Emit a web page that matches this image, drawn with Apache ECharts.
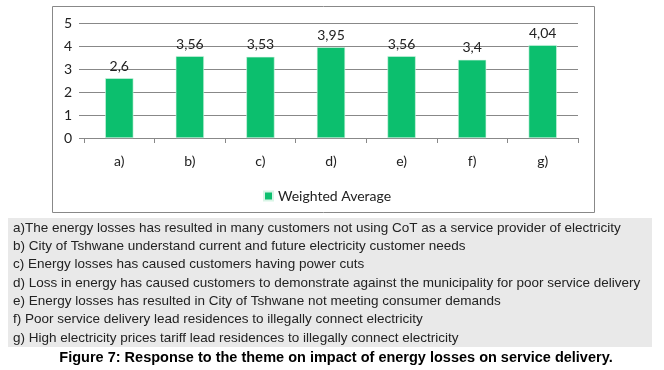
<!DOCTYPE html>
<html><head><meta charset="utf-8">
<script src="https://cdn.jsdelivr.net/npm/echarts@6/dist/echarts.min.js"></script>
<style>html,body{margin:0;padding:0;background:#fff}#c{width:664px;height:370px}</style>
</head><body><div id="c"></div>
<script>
const categories = ['a)', 'b)', 'c)', 'd)', 'e)', 'f)', 'g)'];
const weightedAverage = [2.6, 3.56, 3.53, 3.95, 3.56, 3.4, 4.04];
const seriesName = 'Weighted Average';
const yTicks = [0, 1, 2, 3, 4, 5];
const descriptions = [
  'a)The energy losses has resulted in many customers not using CoT as a service provider of electricity',
  'b) City of Tshwane understand current and future electricity customer needs',
  'c) Energy losses has caused customers having power cuts',
  'd) Loss in energy has caused customers to demonstrate against the municipality for poor service delivery',
  'e) Energy losses has resulted in City of Tshwane not meeting consumer demands',
  'f) Poor service delivery lead residences to illegally connect electricity',
  'g) High electricity prices tariff lead residences to illegally connect electricity'
];
const caption = 'Figure 7: Response to the theme on impact of energy losses on service delivery.';

const chart = echarts.init(document.getElementById('c'));
const chartFont = 'Lato, "Open Sans", sans-serif';
const graphics = [
  {type: 'rect', shape: {x: 52.5, y: 6.5, width: 542, height: 206}, style: {fill: 'none', stroke: '#888', lineWidth: 1}, z: 0},
  {type: 'rect', shape: {x: 8, y: 218, width: 644, height: 129}, style: {fill: '#e9e9e9'}, z: 0}
];
descriptions.forEach((t, i) => {
  graphics.push({type: 'text', x: 13, y: 228 + i * 18.3, style: {text: t, font: '13.5px "Liberation Sans", Arial, sans-serif', fill: '#222', textVerticalAlign: 'middle'}, z: 5});
});
graphics.push({type: 'text', x: 336, y: 358, style: {text: caption, font: 'bold 14.5px "Liberation Sans", Arial, sans-serif', fill: '#000', textAlign: 'center', textVerticalAlign: 'middle'}, z: 5});

chart.setOption({
  animation: false,
  grid: {left: 84, right: 86, top: 23, bottom: 232},
  legend: {
    data: [seriesName], left: 258, top: 184, itemWidth: 9, itemHeight: 9, itemGap: 5,
    icon: 'rect', textStyle: {fontFamily: chartFont, fontSize: 14, color: '#222'}
  },
  xAxis: {
    type: 'category', data: categories,
    axisLine: {lineStyle: {color: '#888'}},
    axisTick: {show: true, length: 5, lineStyle: {color: '#888'}},
    axisLabel: {fontFamily: chartFont, fontSize: 14, color: '#222', margin: 16}
  },
  yAxis: {
    type: 'value', min: yTicks[0], max: yTicks[yTicks.length - 1], interval: 1,
    axisLine: {show: false},
    axisTick: {show: true, length: 5, lineStyle: {color: '#888'}},
    splitLine: {lineStyle: {color: '#888'}},
    axisLabel: {fontFamily: chartFont, fontSize: 14, color: '#222', margin: 12}
  },
  series: [{
    name: seriesName, type: 'bar', data: weightedAverage, barWidth: '40%',
    itemStyle: {color: '#0cbf6e', borderColor: '#d8f5e6', borderWidth: 0.6},
    label: {
      show: true, position: 'top', distance: 5,
      fontFamily: chartFont, fontSize: 14, color: '#222',
      formatter: p => String(p.value).replace('.', ',')
    }
  }],
  graphic: graphics
});
</script></body></html>
